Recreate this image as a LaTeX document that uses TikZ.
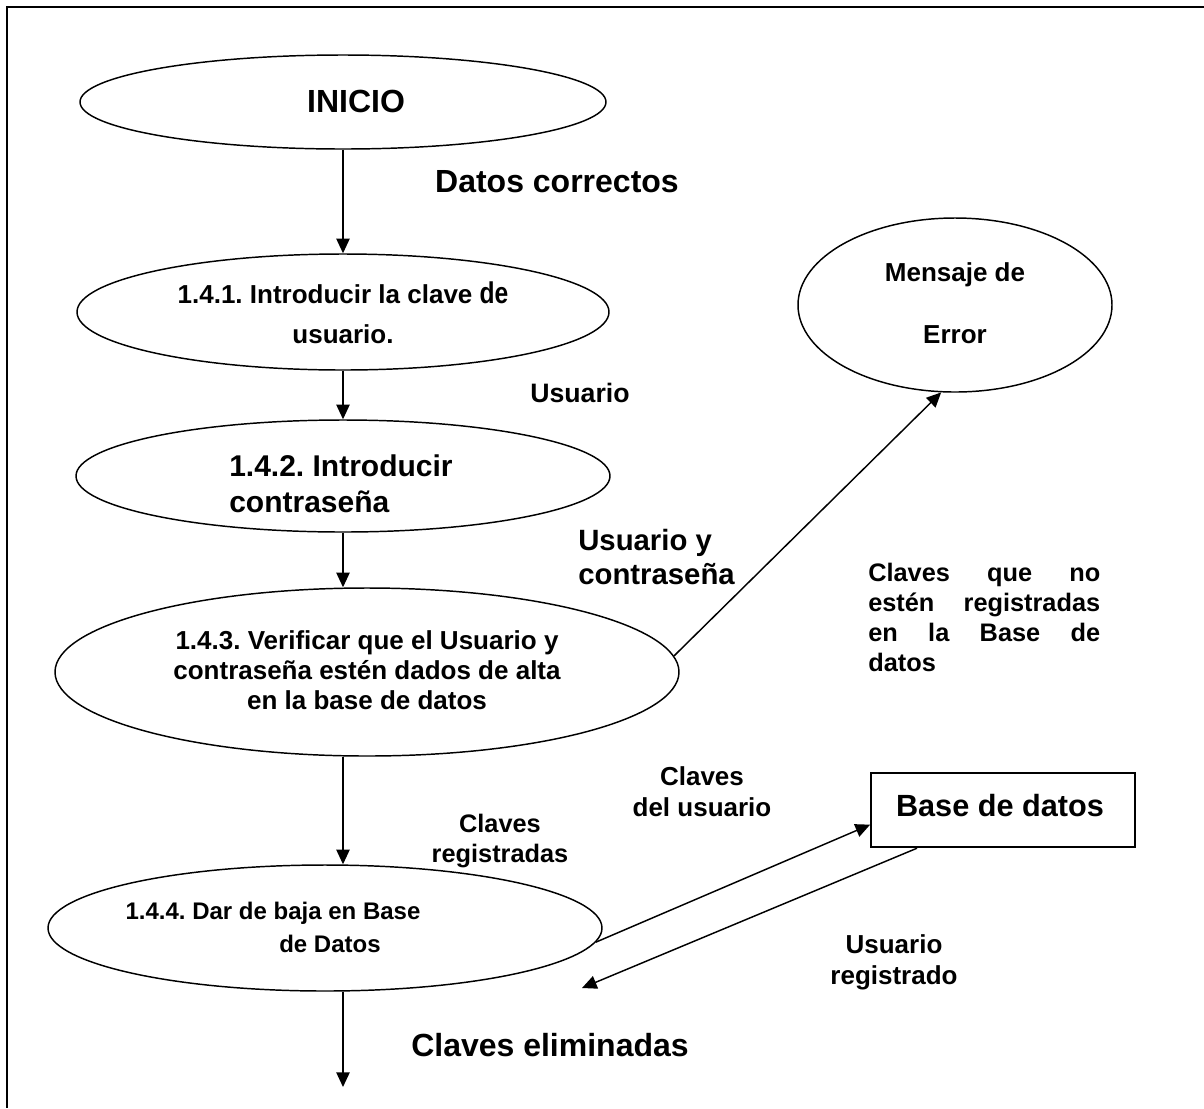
\documentclass[tikz,border=0pt]{standalone}
\usepackage{fontspec}
\setmainfont{Liberation Sans}
\usetikzlibrary{shapes.geometric,arrows.meta}
\frenchspacing
\begin{document}
\begin{tikzpicture}[x=0.75pt,y=-0.75pt,
  proc/.style={draw,ellipse,line width=1.1pt,inner sep=0pt},
  store/.style={draw,rectangle,line width=1.3pt,inner sep=0pt},
  lbl/.style={inner sep=0pt,align=center},
  flow/.style={line width=1.1pt,-{Triangle[length=11pt,width=10pt]}},
]
\useasboundingbox (0,0) rectangle (1204,1108);
\draw[line width=1.5pt] (1204,7) -- (7,7) -- (7,1108);

% processes
\node[proc,minimum width=394.5pt,minimum height=70.5pt] (ini) at (343,102) {};
\node[proc,minimum width=399pt,minimum height=87pt] (p1) at (343,312) {};
\node[proc,minimum width=400.5pt,minimum height=84pt] (p2) at (343,476) {};
\node[proc,minimum width=468pt,minimum height=126pt] (p3) at (367,672) {};
\node[proc,minimum width=415.5pt,minimum height=94.5pt] (p4) at (325,928) {};
\node[proc,minimum width=235.5pt,minimum height=130.5pt] (msg) at (955,305) {};
\node[store,minimum width=198pt,minimum height=56pt] (db) at (1003,810) {};

% texts inside shapes
\node[lbl,font=\bfseries\fontsize{24}{28}\selectfont] (tini) at (356,101) {INICIO};
\node[lbl,font=\bfseries\fontsize{19.5}{30}\selectfont] (tp1) at (343,313)
  {1.4.1. Introducir la clave {\fontsize{22.5}{30}\selectfont\scalebox{0.82}[1]{de}}\\usuario.};
\node[lbl,anchor=west,align=left,font=\bfseries\fontsize{22.5}{27}\selectfont] (tp2) at (229,484)
  {1.4.2. Introducir\\contraseña};
\node[lbl,font=\bfseries\fontsize{19.5}{22.5}\selectfont] (tp3) at (367,670)
  {1.4.3. Verificar que el Usuario y\\contraseña estén dados de alta\\en la base de datos};
\node[lbl,font=\bfseries\fontsize{18}{23}\selectfont] (tp4a) at (273,913) {1.4.4. Dar de baja en Base};
\node[lbl,font=\bfseries\fontsize{18}{23}\selectfont] (tp4b) at (330,944) {de Datos};
\node[lbl,font=\bfseries\fontsize{19.5}{46.5}\selectfont] (tmsg) at (955,303) {Mensaje de\\Error};
\node[lbl,font=\bfseries\fontsize{23}{28}\selectfont] (tdb) at (1000,806) {Base de datos};

% flow labels
\node[lbl,font=\bfseries\fontsize{24}{28}\selectfont] (l1) at (557,182) {Datos correctos};
\node[lbl,font=\bfseries\fontsize{20}{24}\selectfont] (l2) at (580,393) {Usuario};
\node[lbl,anchor=west,align=left,font=\bfseries\fontsize{22}{25.5}\selectfont] (l3) at (578,557) {Usuario y\\contraseña};
\node[anchor=north west,inner sep=0pt] (l4) at (868,563) {\parbox[t]{174pt}{\fontsize{19}{22.5}\selectfont\bfseries
  \hbox to 174pt{Claves\hfill que\hfill no}\hbox to 174pt{estén\hfill registradas}\hbox to 174pt{en\hfill la\hfill Base\hfill de}\hbox{datos}}};
\node[lbl,font=\bfseries\fontsize{19}{23}\selectfont] (l5) at (500,841) {Claves\\registradas};
\node[lbl,font=\bfseries\fontsize{19.5}{23}\selectfont] (l6) at (702,792) {Claves\\del usuario};
\node[lbl,font=\bfseries\fontsize{19.5}{23}\selectfont] (l7) at (894,962) {Usuario\\registrado};
\node[lbl,font=\bfseries\fontsize{24}{28}\selectfont] (l8) at (550,1045) {Claves eliminadas};

% connectors
\coordinate (endc) at (343,1087);
\coordinate (ret) at (582,988);
\draw[flow] (ini.south) -- (p1.north);
\draw[flow] (p1.south) -- (p2.north);
\draw[flow] (p2.south) -- (p2.south |- p3.north);
\draw[flow] (p2.south |- p3.south) -- (p2.south |- p4.north);
\draw[flow] (p2.south |- p4.south) -- (endc);
\draw[flow] (p3.3) -- (msg.261);
\draw[flow] (p4.357) -- ([yshift=-11pt]db.west);
\draw[flow] ([xshift=-64.5pt]db.south) -- (ret);
\end{tikzpicture}
\end{document}
